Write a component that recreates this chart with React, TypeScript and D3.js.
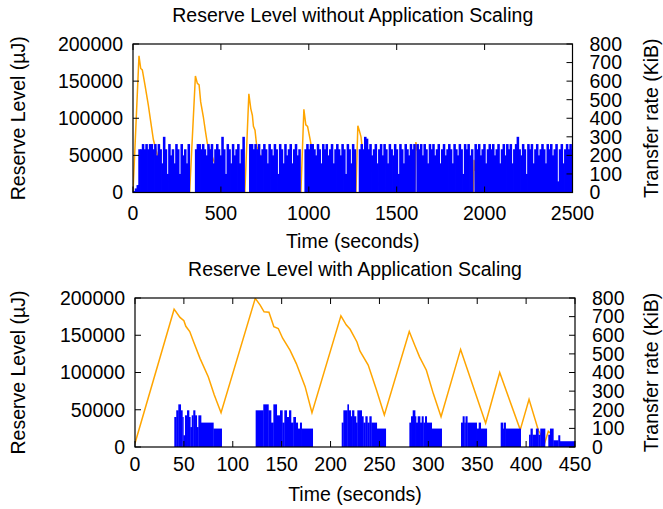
import React from "react";
import * as d3 from "d3";

// ---------- DATA ----------
// Top panel: Reserve level (µJ) without scaling
const topReserveT = [0, 34, 44, 53, 68, 87, 101, 116, 150, 200, 250, 300, 322, 355, 366, 376, 385, 400, 411, 423, 480, 550, 636, 659, 670, 679, 685, 694, 704, 760, 850, 955, 972, 983, 993, 1008, 1021, 1100, 1200, 1268, 1279, 1289, 1297, 1308, 1400, 1500, 1603, 1609, 1616, 1700, 1800, 1936, 1940, 1946, 2050, 2200, 2350, 2500];
const topReserveV = [0, 184000, 167000, 165000, 145000, 118000, 95000, 71000, 40000, 15000, 4000, 0, 0, 157000, 147000, 145000, 122000, 102000, 84000, 66000, 30000, 5000, 0, 133000, 113000, 104000, 89000, 84000, 62000, 25000, 3000, 0, 112000, 91000, 89000, 71000, 53000, 15000, 0, 0, 90000, 82000, 75000, 50000, 10000, 0, 0, 68000, 58000, 10000, 0, 0, 44000, 30000, 5000, 0, 0, 0];

// Top panel: transfer rate (KiB), blocks of 10-second bins
const topBinSeconds = 10;
const topBlockStart = [0, 30, 352, 660, 975, 1284, 1612, 1942];
const topRamp = [8, 22, 40];
const topBlockA = [233, 233, 261, 233, 261, 233, 261, 261, 233, 261, 200, 261, 233, 157, 300, 233, 100, 261, 200, 233, 157, 261, 233, 100, 261, 200, 233, 157, 261];
const topBlockB = [233, 261, 261, 233, 261, 233, 200, 261, 233, 261, 157, 233, 261, 233, 200, 300, 233, 100, 261, 233, 157, 261, 200, 233, 261, 157, 233, 300];
const topBlockC = [261, 261, 233, 261, 233, 261, 200, 233, 261, 233, 157, 261, 233, 200, 261, 233, 100, 261, 233, 157, 261, 200, 233, 261, 157, 233, 261, 200, 233];
const topBlockD = [233, 261, 233, 261, 261, 233, 200, 261, 233, 157, 261, 233, 261, 200, 233, 261, 157, 233, 261, 233, 200, 261, 233, 100, 261, 233, 157, 261, 233];
const topBlockE = [233, 261, 233, 300, 290, 233, 261, 200, 233, 261, 157, 233, 261, 200, 261, 233, 157, 261, 233, 200, 261, 233, 100, 261, 233, 157, 261, 233, 200, 261, 233, 261];
const topBlockF = [261, 233, 261, 200, 261, 233, 157, 261, 233, 261, 200, 233, 261, 157, 233, 261, 200, 233, 261, 233, 157, 261, 233, 200, 261, 233, 100, 261, 233, 261, 200, 233];
const topBlockG = [261, 233, 261, 200, 233, 261, 157, 233, 261, 233, 261, 200, 233, 261, 157, 233, 261, 200, 261, 233, 261, 157, 233, 261, 300, 233, 200, 261, 233, 100, 261, 233, 261, 157, 233, 261, 200, 233, 261, 233, 157, 261, 233, 261, 200, 233, 261, 60, 233, 261, 157, 233, 261, 233, 261, 233];
const topBlocks = [topRamp, topBlockA, topBlockB, topBlockC, topBlockD, topBlockE, topBlockF, topBlockG];

// Bottom panel: Reserve level with scaling
const botReserveT = [0, 40, 46, 50, 52, 56, 60, 66.5, 75, 81, 88, 123, 128, 132, 137, 142, 146.5, 151, 158.5, 165, 174, 181, 210.6, 216, 220, 227, 230, 238.5, 247, 255, 280.5, 286, 291, 298, 305, 313, 333, 358.6, 373, 394, 403, 412.5, 419.3, 422.7, 424.5];
const botReserveV = [5000, 185000, 174000, 169500, 162000, 155000, 141000, 119000, 94000, 70000, 46000, 199500, 190500, 181500, 181000, 161500, 159000, 146000, 130000, 112000, 81000, 46000, 176000, 164000, 158000, 141000, 129000, 110000, 76500, 43000, 155000, 137000, 121000, 103000, 72000, 40500, 131000, 32000, 100000, 23000, 64000, 22400, 6700, 21000, 19000];

// Bottom panel: transfer-rate steps [time, KiB] (value holds until next step)
const botBurst1 = [[40.2, 161], [42.2, 197], [44.3, 229], [46.7, 197], [48.4, 161], [49.4, 63], [51.1, 170], [53.2, 197], [55.2, 161], [56.5, 107], [58, 170], [59.6, 197], [61.4, 170], [63.1, 107], [64.8, 170], [67.5, 131], [80.1, 99], [88.6, 0]];
const botBurst2 = [[123.4, 197], [131.2, 229], [136.4, 197], [139.1, 131], [141.5, 229], [144.9, 170], [148.3, 197], [150.7, 131], [152.7, 197], [155.1, 161], [157.5, 197], [159.5, 131], [161.9, 161], [164.3, 131], [166.4, 99], [168.7, 131], [170.4, 99], [181.7, 0]];
const botBurst3 = [[211.4, 131], [213.1, 197], [217.2, 229], [218.5, 197], [220.6, 165], [222, 197], [224, 165], [226, 131], [227.4, 197], [231.8, 165], [233.5, 131], [235.6, 165], [237.6, 131], [239.7, 165], [241.7, 131], [247.2, 99], [256.4, 0]];
const botBurst4 = [[280.6, 131], [282.3, 165], [284, 197], [286.4, 165], [287.4, 131], [289.1, 165], [291.5, 131], [293.2, 165], [294.9, 131], [296.6, 165], [298.3, 131], [303.4, 99], [313.6, 0]];
const botBurst5 = [[333.4, 131], [335.1, 165], [336.8, 131], [338, 165], [339.8, 131], [349.4, 99], [351.5, 131], [353.5, 99], [359.7, 0]];
const botBurst6 = [[374, 131], [376, 99], [377, 131], [379, 99], [394.4, 0]];
const botBurst7 = [[403, 66], [404.5, 99], [406.5, 66], [410, 99], [412.5, 66], [414.5, 99], [419.3, 0]];
const botBurst8 = [[422.7, 66], [424.4, 99], [427.8, 36], [432.9, 63], [434.6, 31], [450, 0]];
const botBursts = [botBurst1, botBurst2, botBurst3, botBurst4, botBurst5, botBurst6, botBurst7, botBurst8];

// Ticks and labels
const topXTicks = [0, 500, 1000, 1500, 2000, 2500];
const botXTicks = [0, 50, 100, 150, 200, 250, 300, 350, 400, 450];
const leftTicks = [0, 50000, 100000, 150000, 200000];
const rightTicks = [0, 100, 200, 300, 400, 500, 600, 700, 800];
const titles = ["Reserve Level without Application Scaling", "Reserve Level with Application Scaling"];
const xLabel = "Time (seconds)";
const yLabel = "Reserve Level (µJ)";
const y2Label = "Transfer rate (KiB)";

const ORANGE = "#ffa500";
const BLUE = "#0000ff";
const FONT = "'Liberation Sans', Arial, Helvetica, sans-serif";
const FS = 19.5;

type Bar = { t0: number; t1: number; v: number };

function Panel(props: {
  id: string;
  left: number; right: number; top: number; bottom: number;
  xMax: number; xTicks: number[];
  reserveT: number[]; reserveV: number[];
  bars: Bar[]; overlap: number;
  title: string; titleY: number; xLabelY: number; tickLabelY: number;
}) {
  const { id, left, right, top, bottom, xMax, xTicks, reserveT, reserveV, bars, overlap, title, titleY, xLabelY, tickLabelY } = props;
  const x = d3.scaleLinear().domain([0, xMax]).range([left, right]);
  const yL = d3.scaleLinear().domain([0, 200000]).range([bottom, top]);
  const yR = d3.scaleLinear().domain([0, 800]).range([bottom, top]);
  const line = d3.line<number>().x((_, i) => x(reserveT[i])).y((v) => yL(v));
  const tickLen = 6;
  const midX = (left + right) / 2;
  const midY = (top + bottom) / 2;
  return (
    <g>
      <defs>
        <clipPath id={id}>
          <rect x={left} y={top} width={right - left} height={bottom - top} />
        </clipPath>
      </defs>
      <g clipPath={`url(#${id})`}>
        <path d={line(reserveV) || ""} fill="none" stroke={ORANGE} strokeWidth={1.5} />
        {bars.map((b, i) => (
          <rect key={i} x={x(b.t0)} y={yR(b.v)} width={Math.max(0, x(b.t1) - x(b.t0) + overlap)} height={bottom - yR(b.v)} fill={BLUE} />
        ))}
      </g>
      <rect x={left} y={top} width={right - left} height={bottom - top} fill="none" stroke="#000" strokeWidth={1.2} />
      {xTicks.map((t) => (
        <g key={"xt" + t}>
          <line x1={x(t)} x2={x(t)} y1={bottom} y2={bottom - tickLen} stroke="#000" />
          <line x1={x(t)} x2={x(t)} y1={top} y2={top + tickLen} stroke="#000" />
          <text x={x(t)} y={tickLabelY} textAnchor="middle" fontSize={FS} fontFamily={FONT}>{t}</text>
        </g>
      ))}
      {leftTicks.map((v) => (
        <g key={"lt" + v}>
          <line x1={left} x2={left + tickLen} y1={yL(v)} y2={yL(v)} stroke="#000" />
          <text x={left - 10} y={yL(v)} dy="0.35em" textAnchor="end" fontSize={FS} fontFamily={FONT}>{v}</text>
        </g>
      ))}
      {rightTicks.map((v) => (
        <g key={"rt" + v}>
          <line x1={right} x2={right - tickLen} y1={yR(v)} y2={yR(v)} stroke="#000" />
          <text x={right + 17} y={yR(v)} dy="0.35em" textAnchor="start" fontSize={FS} fontFamily={FONT}>{v}</text>
        </g>
      ))}
      <text x={midX} y={titleY} textAnchor="middle" fontSize={FS} fontFamily={FONT}>{title}</text>
      <text x={midX} y={xLabelY} textAnchor="middle" fontSize={FS} fontFamily={FONT}>{xLabel}</text>
      <text transform={`translate(18,${midY}) rotate(-90)`} textAnchor="middle" dy="0.35em" fontSize={FS} fontFamily={FONT}>{yLabel}</text>
      <text transform={`translate(651,${midY}) rotate(-90)`} textAnchor="middle" dy="0.35em" fontSize={FS} fontFamily={FONT}>{y2Label}</text>
    </g>
  );
}

export default function App() {
  const topBars: Bar[] = [];
  topBlocks.forEach((vals, bi) => {
    const s = topBlockStart[bi];
    vals.forEach((v, i) => topBars.push({ t0: s + i * topBinSeconds, t1: s + (i + 1) * topBinSeconds, v }));
  });
  const botBars: Bar[] = [];
  botBursts.forEach((steps) => {
    for (let i = 0; i < steps.length - 1; i++) {
      botBars.push({ t0: steps[i][0], t1: steps[i + 1][0], v: steps[i][1] });
    }
  });
  return (
    <svg width={663} height={509} style={{ position: "absolute", left: 0, top: 0, background: "#fff" }}>
      <rect width={663} height={509} fill="#fff" />
      <Panel id="clipTop" left={133} right={572.5} top={44} bottom={192.5} xMax={2500} xTicks={topXTicks}
        reserveT={topReserveT} reserveV={topReserveV} bars={topBars} overlap={0.8}
        title={titles[0]} titleY={22} xLabelY={248} tickLabelY={220} />
      <Panel id="clipBot" left={135} right={575} top={298} bottom={447} xMax={450} xTicks={botXTicks}
        reserveT={botReserveT} reserveV={botReserveV} bars={botBars} overlap={0.35}
        title={titles[1]} titleY={276} xLabelY={501} tickLabelY={471} />
    </svg>
  );
}
